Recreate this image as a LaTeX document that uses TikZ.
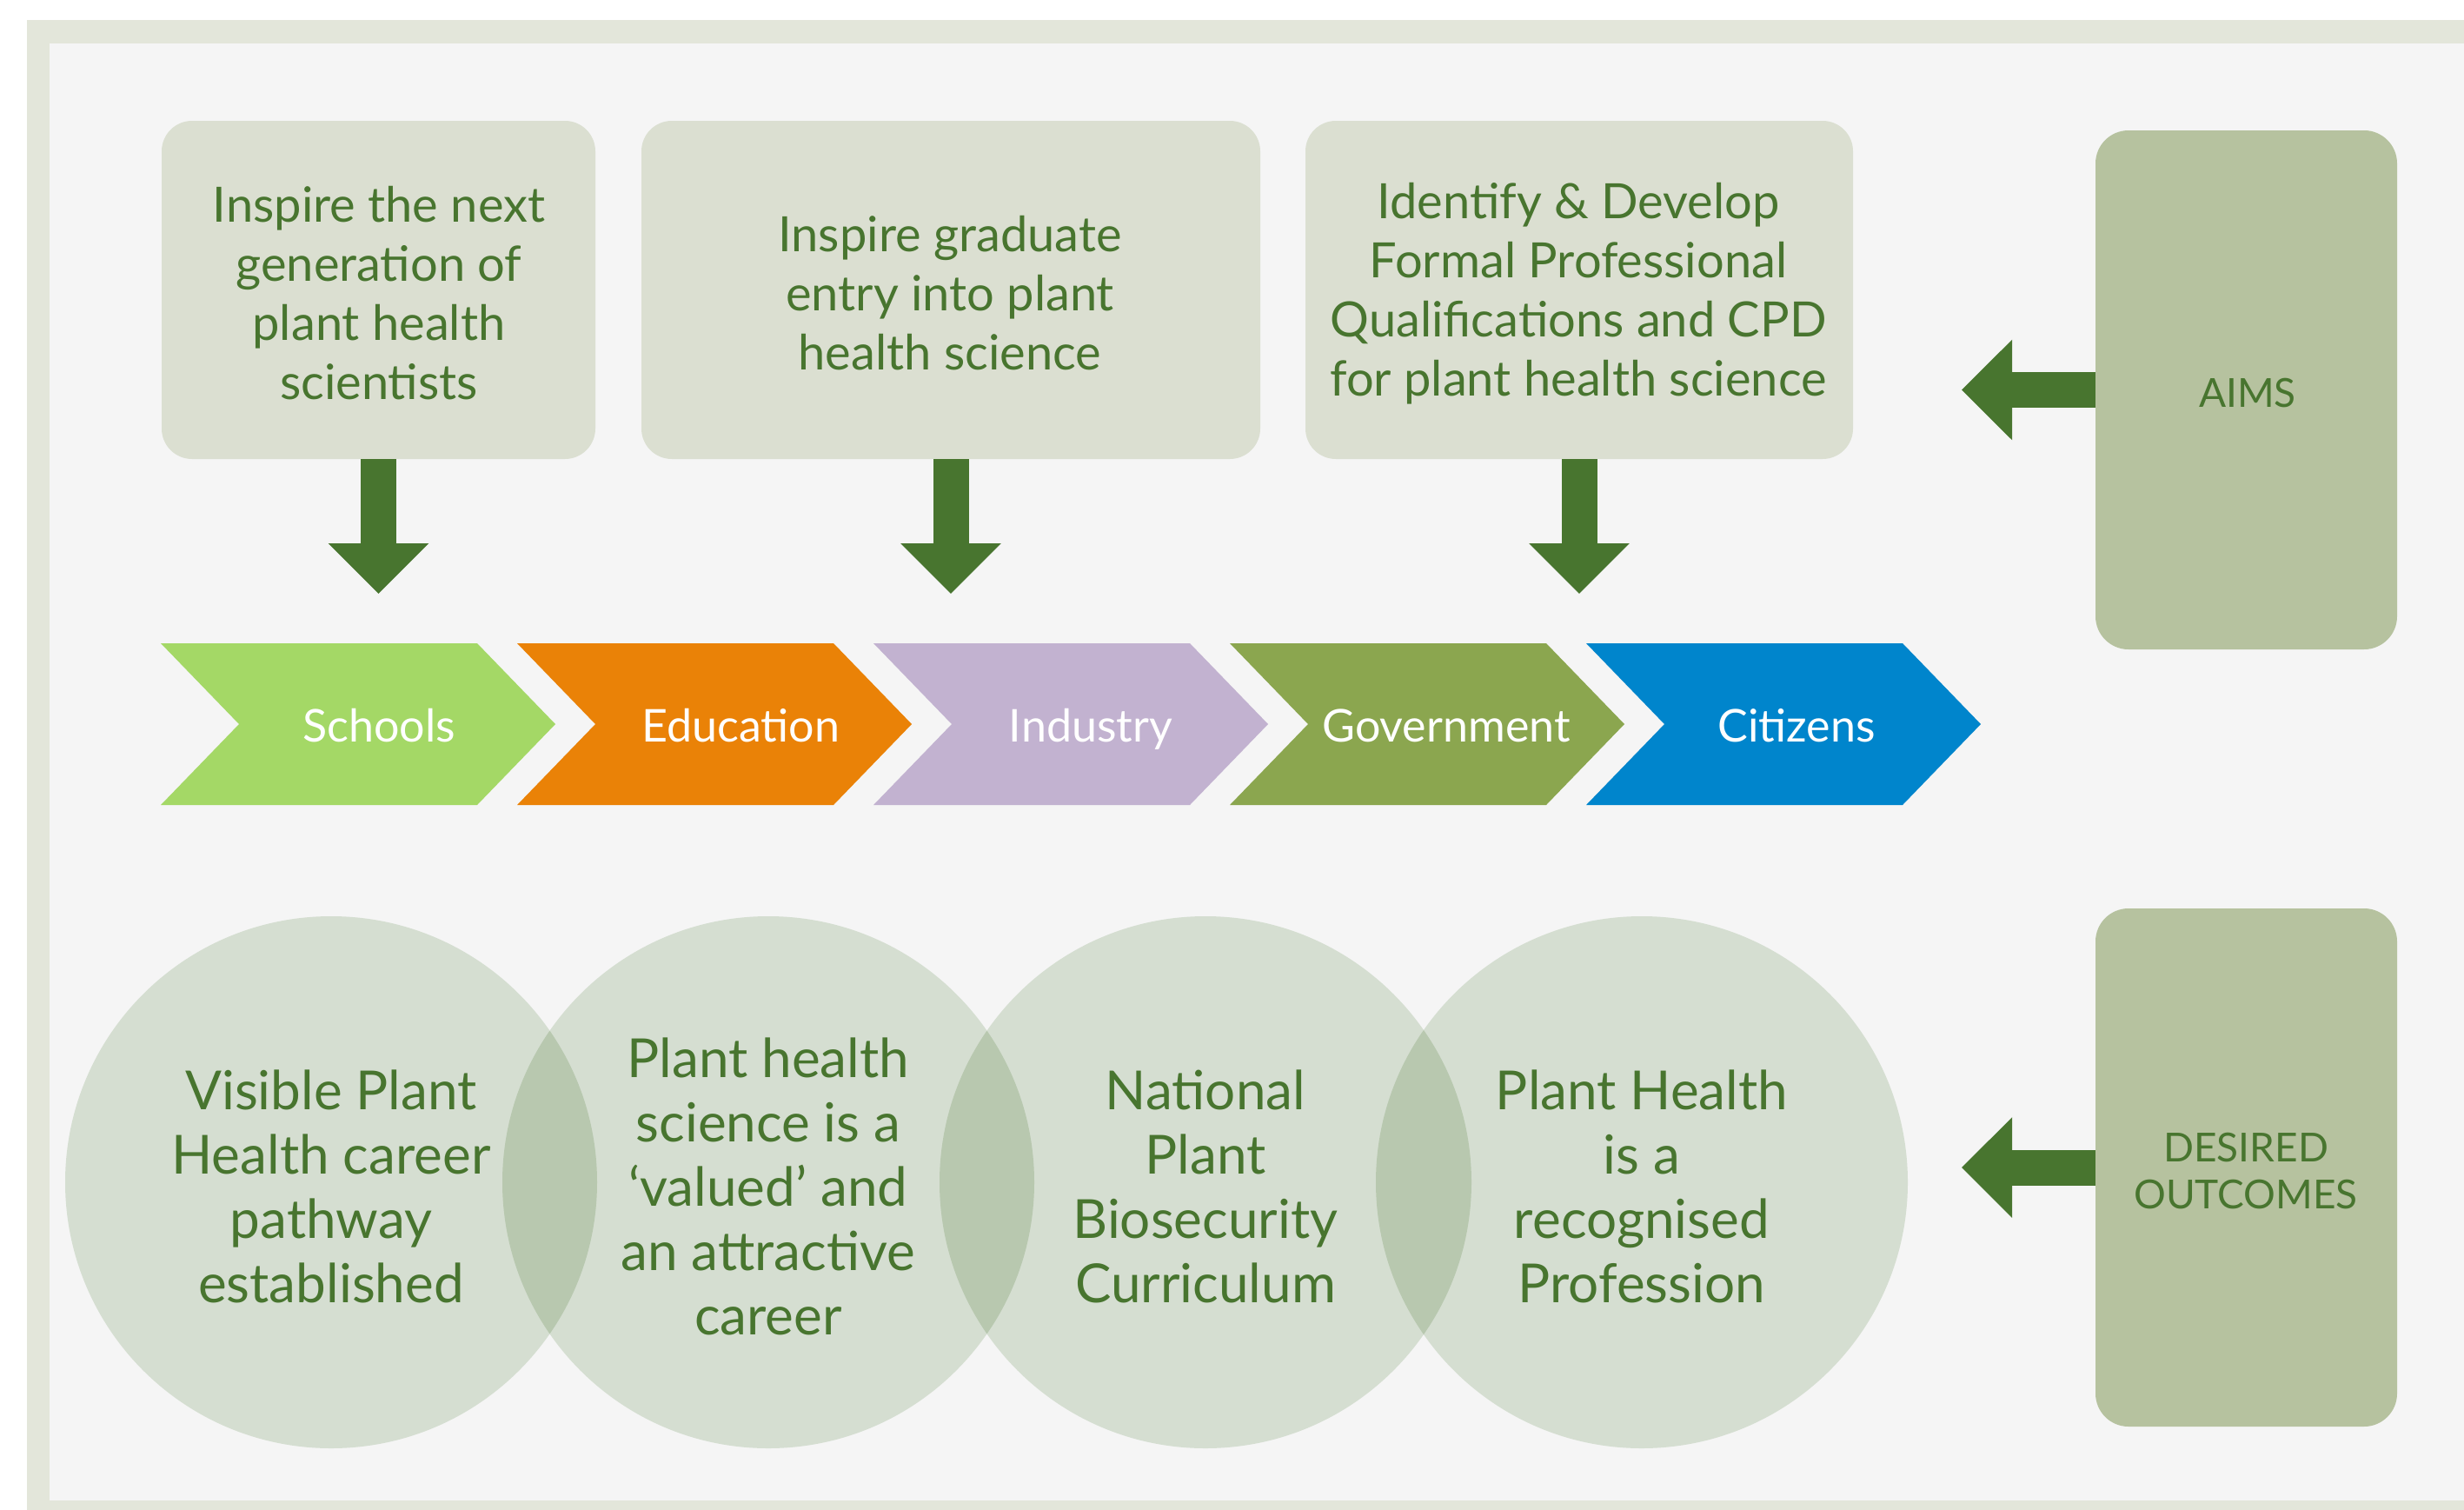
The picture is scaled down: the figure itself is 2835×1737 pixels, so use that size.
\documentclass[tikz,border=0pt]{standalone}
\usepackage{fontspec}
\setmainfont{Lato}
\usetikzlibrary{arrows.meta}
\definecolor{framec}{HTML}{E3E6DA}
\definecolor{bgc}{HTML}{F5F5F5}
\definecolor{boxc}{HTML}{DBDFD1}
\definecolor{sidec}{HTML}{B6C29F}
\definecolor{dgreen}{HTML}{48752F}
\definecolor{circc}{HTML}{D5DED1}
\definecolor{lensc}{HTML}{B8C8AF}
\definecolor{cSchools}{HTML}{A4D866}
\definecolor{cEdu}{HTML}{EA8207}
\definecolor{cInd}{HTML}{C2B2D0}
\definecolor{cGov}{HTML}{8BA64F}
\definecolor{cCit}{HTML}{0085CC}
\tikzset{
  aimbox/.style={fill=boxc, rounded corners=35pt, inner sep=0pt, minimum height=389pt},
  aimtext/.style={text=dgreen, align=center, font=\fontsize{56}{68}\selectfont, inner sep=0pt},
  sidebox/.style={fill=sidec, rounded corners=38pt, inner sep=0pt, minimum width=347pt},
  sidetext/.style={text=dgreen, align=center, font=\fontsize{46}{54}\selectfont, inner sep=0pt},
  bigarrow/.style={draw=dgreen, line width=41pt,
    -{Triangle[width=112pt,length=58pt]}},
  chevlabel/.style={text=white, anchor=base, font=\fontsize{52}{60}\selectfont, inner sep=0pt},
  outcome/.style={circle, minimum size=612pt, inner sep=0pt, text=dgreen, align=center,
    font=\fontsize{62}{74}\selectfont}
}
\begin{document}
\begin{tikzpicture}[x=1pt,y=-1pt]
\useasboundingbox (0,0) rectangle (2835,1737);
\fill[white] (0,0) rectangle (2835,1737);
\fill[framec] (31,23) rectangle (2835,1737);
\fill[bgc] (57,50) rectangle (2835,1726);

% aims boxes
\node[aimbox, minimum width=499pt] (b1) at (435.5,333.5) {};
\node[aimbox, minimum width=712pt] (b2) at (1094,333.5) {};
\node[aimbox, minimum width=630pt] (b3) at (1817,333.5) {};
\node[aimtext] (b1t) at (436,337.5) {Inspire the next\\generation of\\plant health\\scientists};
\node[aimtext] (b2t) at (1093,337.5) {Inspire graduate\\entry into plant\\health science};
\node[aimtext] (b3t) at (1816,337.5) {Identify \& Develop\\Formal Professional\\Qualifications and CPD\\for plant health science};

\coordinate (t1) at (435.5,683);
\coordinate (t2) at (1094,683);
\coordinate (t3) at (1817,683);
\draw[bigarrow] (b1.south) -- (t1);
\draw[bigarrow] (b2.south) -- (t2);
\draw[bigarrow] (b3.south) -- (t3);

% chevrons
\foreach \i/\c in {0/cSchools,1/cEdu,2/cInd,3/cGov,4/cCit}{
  \pgfmathsetmacro{\L}{185+410*\i}
  \fill[\c] (\L,740) -- (\L+364,740) -- (\L+454,833) -- (\L+364,926) -- (\L,926) -- (\L+90,833) -- cycle;
}
\node[chevlabel] (schools) at (436,853) {Schools};
\node[chevlabel] (education) at (852,853) {Education};
\node[chevlabel] (industry) at (1255,853) {Industry};
\node[chevlabel] (government) at (1664,853) {Government};
\node[chevlabel] (citizens) at (2067,853) {Citizens};

% side boxes
\node[sidebox, minimum height=597pt] (aims) at (2584.5,448.5) {};
\node[sidebox, minimum height=596pt] (outcomes) at (2584.5,1343) {};
\node[sidetext] (aimst) at (2586,452) {AIMS};
\node[sidetext] (outcomest) at (2584,1347) {DESIRED\\OUTCOMES};
\coordinate (ta) at (2257,448.5);
\coordinate (to) at (2257,1343);
\draw[bigarrow] (aims.west) -- (ta);
\draw[bigarrow] (outcomes.west) -- (to);

% circles
\foreach \x in {381,884,1387,1889}{
  \fill[circc] (\x,1360) circle[radius=306pt];
}
\foreach \a/\b in {381/884,884/1387,1387/1889}{
  \begin{scope}
    \clip (\a,1360) circle[radius=306pt];
    \fill[lensc] (\b,1360) circle[radius=306pt];
  \end{scope}
}
\node[outcome] (o1) at (381,1365) {Visible Plant\\Health career\\pathway\\established};
\node[outcome] (o2) at (884,1365) {Plant health\\science is a\\‘valued’ and\\an attractive\\career};
\node[outcome] (o3) at (1387,1365) {National\\Plant\\Biosecurity\\Curriculum};
\node[outcome] (o4) at (1889,1365) {Plant Health\\is a\\recognised\\Profession};
\end{tikzpicture}
\end{document}
